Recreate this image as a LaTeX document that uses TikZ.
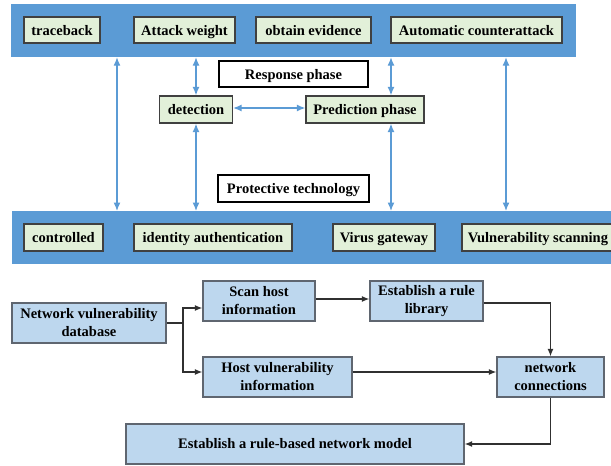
\documentclass[tikz,border=0pt]{standalone}
\usepackage{fontspec}
\setmainfont{Liberation Serif}
\usetikzlibrary{arrows.meta}
\definecolor{bandblue}{HTML}{5B9BD5}
\definecolor{greenfill}{HTML}{E2F0D9}
\definecolor{greenborder}{HTML}{404040}
\definecolor{boxblue}{HTML}{BDD7EE}
\definecolor{boxborder}{HTML}{5F6670}
\definecolor{arrowblue}{HTML}{5B9BD5}
\definecolor{darkline}{HTML}{303030}
\begin{document}
\begin{tikzpicture}[x=1pt,y=-1pt,
  txt/.style={font=\bfseries\fontsize{14.5}{18}\selectfont, align=center, inner sep=0pt, text=black},
  oneline/.style={text height=10.5pt, text depth=0.5pt},
  band/.style={fill=bandblue, draw=none, inner sep=0pt},
  gbox/.style={txt, oneline, fill=greenfill, draw=greenborder, line width=1.2pt, minimum height=26pt},
  wbox/.style={txt, oneline, fill=white, draw=black, line width=1.2pt, minimum height=26pt},
  bbox/.style={txt, fill=boxblue, draw=boxborder, line width=1.2pt, minimum height=40pt},
  barrow/.style={draw=arrowblue, line width=1.3pt, {Latex[length=8.5pt,width=7pt]}-{Latex[length=8.5pt,width=7pt]}},
  karrow/.style={draw=darkline, line width=1.3pt, -{Latex[length=7.5pt,width=6pt]}},
  kline/.style={draw=darkline, line width=1.3pt}
]
\useasboundingbox (0,0) rectangle (611,466);

% bands
\node[band, minimum width=565pt, minimum height=53pt] (band1) at (293.5,30.5) {};
\node[band, minimum width=610pt, minimum height=53pt, anchor=north west] (band2) at (12,211) {};

% top band boxes
\node[gbox, minimum width=76pt]  (trace)  at (62,30) {traceback};
\node[gbox, minimum width=101pt] (attack) at (184.5,30) {Attack weight};
\node[gbox, minimum width=115pt] (evid)   at (313.5,30) {obtain evidence};
\node[gbox, minimum width=171pt] (auto)   at (476.5,30) {Automatic counterattack};

% middle
\node[wbox, minimum width=149pt] (resp) at (293.5,74) {Response phase};
\node[gbox, minimum width=73pt, minimum height=27pt]  (det)  at (196,109.5) {detection};
\node[gbox, minimum width=118pt, minimum height=27pt] (pred) at (365,109.5) {Prediction phase};
\node[wbox, minimum width=151pt, minimum height=27pt] (prot) at (293.5,188.5) {Protective technology};

% bottom band boxes
\node[gbox, minimum width=79pt, minimum height=27pt]  (ctrl)  at (63.5,237.5) {controlled};
\node[gbox, minimum width=158pt, minimum height=27pt] (ident) at (213,237.5) {identity authentication};
\node[gbox, minimum width=102pt, minimum height=27pt] (virus) at (384,237.5) {Virus gateway};
\node[gbox, minimum width=152pt, minimum height=27pt] (vuln)  at (538,237.5) {Vulnerability scanning};

% blue connectors
\coordinate (c1) at (117,0);
\coordinate (c4) at (506,0);
\draw[barrow] (band1.south -| c1) -- (band2.north -| c1);
\draw[barrow] (band1.south -| c4) -- (band2.north -| c4);
\draw[barrow] (det.north) -- (det.north |- band1.south);
\draw[barrow] (det.south) -- (det.south |- band2.north);
\draw[barrow] ([xshift=26pt]pred.north) -- ([xshift=26pt]pred.north |- band1.south);
\draw[barrow] ([xshift=26pt]pred.south) -- ([xshift=26pt]pred.south |- band2.north);
\draw[barrow] ([yshift=1.5pt]det.east) -- ([yshift=1.5pt]pred.west);

% lower flowchart
\node[bbox, minimum width=154pt] (nvd)  at (89,323)    {Network vulnerability\\database};
\node[bbox, minimum width=112pt] (scan) at (259,301)   {Scan host\\information};
\node[bbox, minimum width=113pt] (rule) at (426.5,301) {Establish a rule\\library};
\node[bbox, minimum width=149pt] (hv)   at (277.5,377) {Host vulnerability\\information};
\node[bbox, minimum width=107pt] (nc)   at (550.5,377) {network\\connections};
\node[bbox, minimum width=338pt] (rb)   at (295,444)   {Establish a rule-based network model};

\coordinate (j) at (183,323);
\draw[kline] (nvd.east) -- (j);
\draw[karrow] (j) |- ([yshift=-7pt]scan.west);
\draw[karrow] (j) |- ([yshift=5pt]hv.west);
\draw[karrow] ([yshift=2pt]scan.east) -- ([yshift=2pt]rule.west);
\draw[karrow] ([yshift=-2pt]rule.east) -| (nc.north);
\draw[karrow] ([yshift=5pt]hv.east) -- ([yshift=5pt]nc.west);
\draw[karrow] (nc.south) |- (rb.east);
\end{tikzpicture}
\end{document}
